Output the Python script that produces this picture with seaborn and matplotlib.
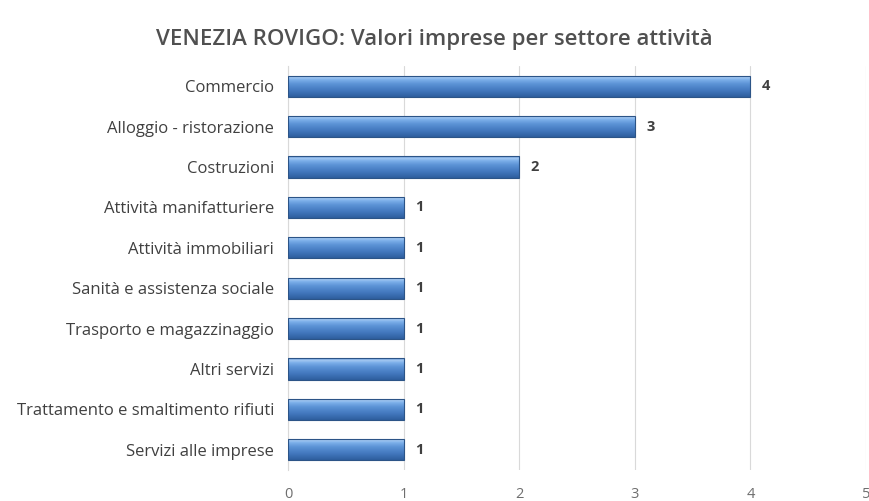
import numpy as np
import pandas as pd
import matplotlib
matplotlib.use("Agg")
import matplotlib.pyplot as plt
import seaborn as sns

categories = ["Commercio", "Alloggio - ristorazione", "Costruzioni", "Attività manifatturiere",
              "Attività immobiliari", "Sanità e assistenza sociale", "Trasporto e magazzinaggio",
              "Altri servizi", "Trattamento e smaltimento rifiuti", "Servizi alle imprese"]
values = [4, 3, 2, 1, 1, 1, 1, 1, 1, 1]
x_ticks = [0, 1, 2, 3, 4, 5]
title = "VENEZIA ROVIGO: Valori imprese per settore attività"

sns.set_theme(style="white")
plt.rcParams['font.family'] = ['Open Sans', 'DejaVu Sans']

df = pd.DataFrame({"cat": categories, "val": values})

fig = plt.figure(figsize=(8.69, 5.01), dpi=100)
ax = fig.add_axes([288/869, 1-470/501, (866-288)/869, (470-66)/501])

sns.barplot(data=df, x="val", y="cat", orient="h", color="#4F81BD", width=0.52,
            edgecolor="#2C5487", linewidth=0.8, ax=ax, zorder=3)

# gradient fill clipped to each bar (value 0 = bottom, 1 = top)
cmap = matplotlib.colors.LinearSegmentedColormap.from_list(
    "g", [(0.0, "#2E5E9E"), (0.3, "#4378BE"), (0.6, "#5C93D6"), (0.8, "#7DB0EA"),
          (0.9, "#A3C8F2"), (1.0, "#6496D6")])
grad = np.linspace(1, 0, 64).reshape(-1, 1)
for p in ax.patches:
    x0, y0 = p.get_x(), p.get_y()
    w, h = p.get_width(), p.get_height()
    im = ax.imshow(grad, cmap=cmap, vmin=0, vmax=1, aspect="auto",
                   extent=[x0, x0 + w, y0 + h, y0], origin="upper", zorder=3.5)
    im.set_clip_path(p)
    p.set_facecolor("none")
    p.set_zorder(4)

ax.set_xlim(0, 5)
ax.set_ylim(len(categories) - 0.5, -0.5)
ax.set_xticks(x_ticks)
ax.set_xticklabels([str(t) for t in x_ticks], color="#6E6E6E", fontsize=10.5)
ax.tick_params(axis="x", length=0, pad=12)
ax.tick_params(axis="y", length=0, pad=10, labelsize=12, labelcolor="#404040")
ax.set_xlabel("")
ax.set_ylabel("")
ax.grid(axis="x", color="#D9D9D9", linewidth=0.8, zorder=0)
for s in ["top", "right", "bottom"]:
    ax.spines[s].set_visible(False)
ax.spines["left"].set_color("#D9D9D9")
ax.spines["left"].set_linewidth(0.8)

for i, v in enumerate(values):
    ax.text(v + 0.1, i, str(v), va="center", ha="left", fontsize=10.5,
            fontweight="bold", color="#404040", zorder=5)

fig.text(0.5, 1 - 40/501, title, ha="center", va="center", fontsize=16,
         fontweight="semibold", color="#505050")

fig.savefig("out.png", dpi=100)
